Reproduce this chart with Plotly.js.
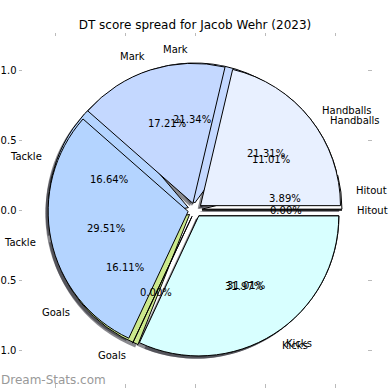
<!DOCTYPE html>
<html>
<head>
<meta charset="utf-8">
<script src="https://cdn.plot.ly/plotly-3.0.1.min.js"></script>
<style>html,body{margin:0;padding:0;background:#fff;}#chart{width:390px;height:390px;}</style>
</head>
<body>
<div id="chart"></div>
<script>
// ---- data ----
const labels = ['Hitout', 'Handballs', 'Mark', 'Tackle', 'Goals', 'Kicks'];
const valuesTop = [0.00, 21.31, 17.21, 29.51, 0.00, 31.97];
const valuesBottom = [3.89, 11.01, 21.34, 16.64, 16.11, 31.01];
const sliceColors = ['#ffffff', '#e8f0ff', '#c4d8ff', '#b4d4ff', '#cbe88c', '#d8ffff'];
const tickVals = [-1, -0.5, 0, 0.5, 1];
const tickText = ['\u22121.0', '\u22120.5', '0.0', '0.5', '1.0'];
const titleText = 'DT score spread for Jacob Wehr (2023)';
const watermark = 'Dream-Stats.com';

// ---- geometry / style ----
const W = 390, H = 390;
const cx = 195, cy = 210, R = 140, PULL = 0.05;
const PCT_DIST = 0.6, LABEL_DIST = 1.1;
const half = R * (1 + PULL);
function dom(dx, dy) {
  return {
    x: [(cx - half + dx) / W, (cx + half + dx) / W],
    y: [(H - cy - half - dy) / H, (H - cy + half - dy) / H]
  };
}
const FONT = 'DejaVu Sans, sans-serif';
const pulls = labels.map(() => PULL);
const sum = a => a.reduce((s, v) => s + v, 0);

// Plotly's counterclockwise pies put the first slice clockwise of the start line;
// rotate so the first slice starts at 3 o'clock and runs counterclockwise (as matplotlib).
function rotationFor(values) { return 90 - 360 * values[0] / sum(values); }

function pie(values, opts) {
  return Object.assign({
    type: 'pie', labels: labels, values: values, sort: false,
    direction: 'counterclockwise', rotation: rotationFor(values), pull: pulls,
    domain: dom(0, 0), hoverinfo: 'skip', showlegend: false, textinfo: 'none'
  }, opts);
}

const shadowCol = labels.map(() => 'rgba(40,40,50,0.55)');

const traces = [
  {type: 'scatter', x: [], y: [], xaxis: 'x', yaxis: 'y', showlegend: false, hoverinfo: 'skip'},
  {type: 'scatter', x: [], y: [], xaxis: 'x2', yaxis: 'y2', showlegend: false, hoverinfo: 'skip'},
  pie(valuesBottom, {domain: dom(-2.8, 2.8), marker: {colors: shadowCol, line: {width: 0}}}),
  pie(valuesTop, {domain: dom(-2.8, 2.8), marker: {colors: shadowCol, line: {width: 0}}}),
  pie(valuesBottom, {marker: {colors: sliceColors, line: {color: '#000', width: 1}}}),
  pie(valuesTop, {marker: {colors: sliceColors, line: {color: '#000', width: 1}}})
];

// slice texts (labels outside, percentages inside), placed in data units of the radius
function sliceTexts(values) {
  const out = [];
  const tot = sum(values);
  let cum = 0;
  values.forEach((v, i) => {
    const mid = (cum + v / 2) / tot * 2 * Math.PI;
    cum += v;
    const c = Math.cos(mid), s = Math.sin(mid);
    out.push({
      text: (v / tot * 100).toFixed(2) + '%', xref: 'x', yref: 'y',
      x: (PULL + PCT_DIST) * c, y: (PULL + PCT_DIST) * s,
      xanchor: 'center', yanchor: 'middle', showarrow: false, borderpad: 0,
      font: {family: FONT, size: 10, color: '#000'}
    });
    out.push({
      text: labels[i], xref: 'x', yref: 'y',
      x: (PULL + LABEL_DIST) * c, y: (PULL + LABEL_DIST) * s,
      xanchor: c > 0 ? 'left' : 'right', yanchor: 'middle', showarrow: false, borderpad: 0,
      font: {family: FONT, size: 10, color: '#000'}
    });
  });
  return out;
}

const xr = [(23 - cx) / R, (367 - cx) / R];
const yr = [-(383 - cy) / R, (cy - 37) / R];
const axBase = {
  showgrid: false, zeroline: false, showline: false,
  ticks: 'outside', ticklen: 3.5, tickwidth: 1, tickcolor: '#bbbbbb',
  tickmode: 'array', tickvals: tickVals, ticktext: tickText,
  tickfont: {family: FONT, size: 10, color: '#000'}, fixedrange: true
};

const layout = {
  width: W, height: H, margin: {l: 0, r: 0, t: 0, b: 0},
  paper_bgcolor: '#fff', plot_bgcolor: 'rgba(0,0,0,0)',
  font: {family: FONT, size: 10, color: '#000'},
  title: {text: titleText, x: 0.5, xanchor: 'center', y: (H - 25) / H, yanchor: 'middle',
    font: {family: FONT, size: 12, color: '#000'}},
  xaxis: Object.assign({}, axBase, {range: xr, domain: [23 / W, 367 / W], anchor: 'y'}),
  yaxis: Object.assign({}, axBase, {range: yr, domain: [(H - 383) / H, (H - 37) / H], anchor: 'x'}),
  xaxis2: Object.assign({}, axBase, {range: xr, domain: [23 / W, 367 / W], overlaying: 'x', side: 'top', anchor: 'y2', showticklabels: false}),
  yaxis2: Object.assign({}, axBase, {range: yr, domain: [(H - 383) / H, (H - 37) / H], overlaying: 'y', side: 'right', anchor: 'x2', showticklabels: false}),
  annotations: sliceTexts(valuesBottom).concat(sliceTexts(valuesTop)).concat([{
    text: watermark, xref: 'paper', yref: 'paper', x: 0, xanchor: 'left',
    y: 10 / H, yanchor: 'middle', showarrow: false, borderpad: 0,
    font: {family: FONT, size: 12, color: '#999999'}
  }])
};

Plotly.newPlot('chart', traces, layout, {displayModeBar: false, staticPlot: true});
</script>
</body>
</html>
